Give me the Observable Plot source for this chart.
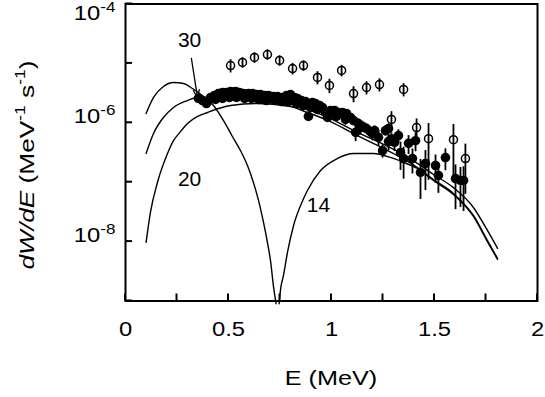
<!DOCTYPE html>
<html><head><meta charset="utf-8">
<script src="https://cdn.jsdelivr.net/npm/d3@7"></script>
<script src="https://cdn.jsdelivr.net/npm/@observablehq/plot@0.6"></script>
<style>body{margin:0;background:#fff;} #chart{width:545px;height:397px;}</style>
</head><body><div id="chart"></div>
<script>
// ---- data (E in MeV, dW/dE in MeV^-1 s^-1) ----
const filledE = [0.354,0.374,0.393,0.413,0.432,0.451,0.471,0.490,0.510,0.534,0.553,0.573,0.597,0.617,0.636,0.655,0.675,0.694,0.718,0.738,0.762,0.782,0.801,0.820,0.835,0.854,0.874,0.888,0.908,0.922,0.942,0.956,0.981,0.995,1.015,1.034,1.053,1.073,1.092,1.107,1.117,1.131,1.150,1.170,1.189,1.209,1.228,1.248,1.262,1.277,1.291,1.306,1.325,1.335,1.350,1.374,1.393,1.408,1.432,1.456,1.505,1.519,1.553,1.602,1.626,1.641,
  0.403,0.437,0.471,0.505,0.539,0.578,0.612,0.646,0.684,0.723,0.757,0.791,0.830,0.864,0.898,0.932,0.971,1.024,1.068,1.141,1.199,1.277];
const filledV = [2.57e-6,2.37e-6,2.11e-6,2.67e-6,2.88e-6,3.11e-6,3.24e-6,3.24e-6,3.37e-6,3.37e-6,3.24e-6,3.11e-6,3.11e-6,3.11e-6,2.99e-6,2.99e-6,2.88e-6,2.88e-6,2.77e-6,2.77e-6,2.67e-6,2.88e-6,2.99e-6,2.67e-6,2.57e-6,2.37e-6,2.28e-6,1.28e-6,2.20e-6,2.11e-6,1.96e-6,1.81e-6,1.23e-6,1.61e-6,1.61e-6,1.49e-6,1.49e-6,1.43e-6,1.23e-6,1.09e-6,6.9e-7,9.7e-7,8.7e-7,8.0e-7,7.1e-7,7.4e-7,5.7e-7,3.4e-7,7.4e-7,8.0e-7,5.4e-7,4.7e-7,6.1e-7,3.16e-7,2.5e-7,4.5e-7,2.5e-7,5.0e-7,1.46e-7,2.07e-7,1.91e-7,1.30e-7,2.6e-7,1.15e-7,1.07e-7,1.07e-7,
  2.37e-6,2.47e-6,2.57e-6,2.67e-6,2.67e-6,2.57e-6,2.57e-6,2.47e-6,2.37e-6,2.37e-6,2.28e-6,2.28e-6,2.11e-6,1.96e-6,1.81e-6,1.67e-6,1.49e-6,1.28e-6,1.14e-6,8.3e-7,6.6e-7,4.84e-7];
const filledRelErr = [0.08,0.08,0.08,0.08,0.08,0.08,0.08,0.08,0.08,0.08,0.08,0.08,0.08,0.08,0.08,0.08,0.08,0.08,0.08,0.08,0.08,0.08,0.08,0.08,0.08,0.08,0.08,0.15,0.1,0.1,0.1,0.1,0.15,0.12,0.12,0.12,0.12,0.12,0.12,0.12,0.3,0.2,0.2,0.2,0.2,0.2,0.3,0.25,0.2,0.2,0.25,0.3,0.25,0.5,0.55,0.35,0.45,0.35,0.65,0.65,0.5,0.5,0.4,0.7,0.65,0.7,
  0.08,0.08,0.08,0.08,0.08,0.08,0.08,0.08,0.08,0.08,0.08,0.08,0.1,0.1,0.12,0.12,0.15,0.15,0.2,0.25,0.25,0.3];

const openE = [0.510,0.568,0.626,0.689,0.748,0.811,0.864,0.932,0.990,1.049,1.107,1.170,1.233,1.291,1.350,1.413,1.471,1.592,1.650];
const openV = [9.2e-6,1.04e-5,1.26e-5,1.41e-5,1.12e-5,8.2e-6,9.2e-6,5.8e-6,4.25e-6,7.6e-6,3.11e-6,3.93e-6,4.41e-6,1.14e-6,3.64e-6,8.3e-7,5.4e-7,5.2e-7,2.5e-7];
const openRelErr = [0.25,0.2,0.2,0.2,0.2,0.22,0.2,0.25,0.27,0.22,0.3,0.25,0.25,0.35,0.25,0.4,0.8,0.8,0.75];

const curve30E = [0.10,0.136,0.180,0.233,0.301,0.350,0.413,0.510,0.641,0.801,0.883,0.995,1.126,1.223,1.320,1.417,1.495,1.592,1.689,1.757,1.806];
const curve30V = [3.04e-7,6.61e-7,1.18e-6,1.81e-6,2.37e-6,2.67e-6,2.67e-6,2.57e-6,2.47e-6,2.11e-6,1.67e-6,1.18e-6,6.87e-7,4.84e-7,3.29e-7,2.07e-7,1.35e-7,8.1e-8,3.75e-8,1.54e-8,7.7e-9];

const curve20E = [0.10,0.121,0.155,0.204,0.233,0.267,0.301,0.350,0.398,0.451,0.510,0.641,0.801,0.883,0.995,1.126,1.223,1.320,1.417,1.495,1.592,1.689,1.757,1.806];
const curve20V = [9.7e-9,3.1e-8,9.9e-8,3.04e-7,5.0e-7,7.1e-7,9.7e-7,1.28e-6,1.49e-6,1.74e-6,1.96e-6,2.11e-6,1.88e-6,1.49e-6,1.05e-6,6.1e-7,4.15e-7,2.81e-7,1.77e-7,1.11e-7,6.45e-8,2.75e-8,1.04e-8,5.2e-9];

const curve14LeftE = [0.10,0.136,0.184,0.233,0.282,0.325,0.379,0.427,0.476,0.519,0.558,0.592,0.621,0.646,0.670,0.689,0.704,0.718,0.731];
const curve14LeftV = [1.43e-6,2.67e-6,4.08e-6,4.77e-6,4.59e-6,3.78e-6,2.77e-6,1.96e-6,1.09e-6,5.88e-7,3.42e-7,1.91e-7,9.9e-8,4.9e-8,2.1e-8,9.7e-9,4.8e-9,1.8e-9,9e-10];
const curve14RightE = [0.746,0.752,0.767,0.786,0.816,0.850,0.883,0.947,1.029,1.107,1.204,1.286,1.350,1.417,1.495,1.592,1.689,1.757,1.806];
const curve14RightV = [9e-10,1.5e-9,2.7e-9,6.5e-9,1.87e-8,4.06e-8,7.25e-8,1.57e-7,2.51e-7,3.04e-7,3.04e-7,2.61e-7,2.15e-7,1.70e-7,1.07e-7,6.2e-8,2.65e-8,1.0e-8,5.0e-9];

const curveLabels = ["30", "20", "14"];
const curveLabelE = [0.311, 0.311, 0.937];
const curveLabelV = [2.43e-5, 1.11e-7, 4.06e-8];
const arrowFromE = 0.320, arrowFromV = 1.21e-5, arrowToE = 0.350, arrowToV = 2.6e-6;

const xTickValues = [0, 0.25, 0.5, 0.75, 1, 1.25, 1.5, 1.75, 2];
const xLabelValues = [0, 0.5, 1, 1.5, 2];
const yTickValues = [1e-9, 1e-8, 1e-7, 1e-6, 1e-5, 1e-4];
const yLabelValues = [1e-8, 1e-6, 1e-4];
const xTitle = "E (MeV)";

// ---- tables ----
const filled = filledE.map((E, i) => ({E, v: filledV[i], lo: filledV[i] * (1 - filledRelErr[i]), hi: filledV[i] * (1 + filledRelErr[i])}));
const open = openE.map((E, i) => ({E, v: openV[i], lo: openV[i] * (1 - openRelErr[i]), hi: openV[i] * (1 + openRelErr[i])}));
const toPts = (xs, ys) => xs.map((E, i) => ({E, v: ys[i]}));
const c30 = toPts(curve30E, curve30V), c20 = toPts(curve20E, curve20V);
const c14a = toPts(curve14LeftE, curve14LeftV), c14b = toPts(curve14RightE, curve14RightV);
const labels = curveLabels.map((t, i) => ({t, E: curveLabelE[i], v: curveLabelV[i]}));
const arrowRow = [{x1: arrowFromE, y1: arrowFromV, x2: arrowToE, y2: arrowToV}];

const W = 545, H = 397, mT = 3.5, mB = 96.5, mL = 125, mR = 8, tick = 7;
const font = "'Liberation Sans', Arial, Helvetica, sans-serif";
const lineOpts = {x: "E", y: "v", stroke: "black", strokeWidth: 1.4, curve: "monotone-x"};

const svg = Plot.plot({
  width: W, height: H,
  marginTop: mT, marginBottom: mB, marginLeft: mL, marginRight: mR,
  style: {fontFamily: font, background: "#fff", color: "#000", overflow: "visible"},
  x: {domain: [0, 2]},
  y: {type: "log", domain: [1e-9, 1e-4]},
  marks: [
    Plot.line(c30, lineOpts),
    Plot.line(c20, lineOpts),
    Plot.line(c14a, lineOpts),
    Plot.line(c14b, lineOpts),
    Plot.ruleX(open, {x: "E", y1: "lo", y2: "hi", stroke: "black", strokeWidth: 1.8}),
    Plot.dot(open, {x: "E", y: "v", r: 4, fill: "none", stroke: "black", strokeWidth: 1.5}),
    Plot.ruleX(filled, {x: "E", y1: "lo", y2: "hi", stroke: "black", strokeWidth: 1.8}),
    Plot.dot(filled, {x: "E", y: "v", r: 4.8, fill: "black", stroke: "none"}),
    Plot.text(labels, {x: "E", y: "v", text: "t", fontSize: 21, fill: "black"}),
    Plot.arrow(arrowRow, {x1: "x1", y1: "y1", x2: "x2", y2: "y2", stroke: "black", strokeWidth: 1.3, headLength: 10, headAngle: 40}),
    Plot.axisX(xLabelValues, {tickSize: 0, tickPadding: 35, fontSize: 19.5, tickFormat: d => String(d), label: null}),
    Plot.axisY(yLabelValues, {tickSize: 0, tickPadding: 10, fontSize: 19.5, tickFormat: d => String(Math.round(Math.log10(d))), label: null}),
    Plot.frame({stroke: "black", strokeWidth: 2})
  ]
});

// inward tick marks, placed through Plot's own scales
const xs = svg.scale("x"), ys = svg.scale("y");
const tg = d3.select(svg).append("g").attr("fill", "none").attr("stroke", "black").attr("stroke-width", 2);
xTickValues.forEach(v => {
  const px = xs.apply(v);
  tg.append("path").attr("d", `M${px},${H - mB}v${-tick}`);
});
yTickValues.forEach(v => {
  const py = ys.apply(v);
  tg.append("path").attr("d", `M${mL},${py}h${tick}`);
});

function stretch(el, sx, extraY = 0) {
  const x = +el.getAttribute("x") || 0, y = +el.getAttribute("y") || 0;
  el.removeAttribute("x"); el.removeAttribute("y");
  const t = el.getAttribute("transform") || "";
  el.setAttribute("transform", `${t} translate(${x},${y + extraY}) scale(${sx},1)`);
}

// superscript decade labels
d3.select(svg).selectAll('g[aria-label="y-axis tick label"] text').each(function () {
  const exp = this.textContent.trim();
  if (!exp) return;
  this.textContent = "10";
  d3.select(this).append("tspan").attr("dy", -8).attr("font-size", 14).text(exp);
  stretch(this, 1.22, exp === "-4" ? 15.5 : 0);
});
d3.select(svg).selectAll('g[aria-label="x-axis tick label"] text').each(function () {
  if (this.textContent.trim()) stretch(this, 1.22);
});

// axis titles
const s = d3.select(svg);
s.append("text").attr("transform", "translate(331,385) scale(1.2,1)")
  .attr("text-anchor", "middle").attr("font-size", 21).attr("font-family", font).attr("fill", "black").text(xTitle);
const yt = s.append("text").attr("transform", "translate(34,165) rotate(-90) scale(1.25,1)")
  .attr("text-anchor", "middle").attr("font-size", 21).attr("font-family", font).attr("fill", "black");
yt.append("tspan").attr("font-style", "italic").text("dW/dE");
yt.append("tspan").text(" (MeV");
yt.append("tspan").attr("dy", -9).attr("font-size", 14).text("-1");
yt.append("tspan").attr("dy", 9).text(" s");
yt.append("tspan").attr("dy", -9).attr("font-size", 14).text("-1");
yt.append("tspan").attr("dy", 9).text(")");

document.getElementById("chart").appendChild(svg);
</script>
</body></html>
